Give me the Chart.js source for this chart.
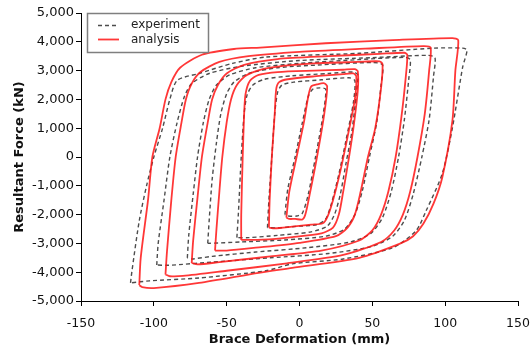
<!DOCTYPE html>
<html>
<head>
<meta charset="utf-8">
<script src="https://cdn.jsdelivr.net/npm/chart.js@4.4.1/dist/chart.umd.min.js"></script>
<style>
  html, body { margin: 0; padding: 0; background: #fff; }
</style>
</head>
<body>
<canvas id="hyst_chart" width="531" height="347"></canvas>
<script>
// axis ticks
const xTicks = [-150, -100, -50, 0, 50, 100, 150];
const yTicks = [-5000, -4000, -3000, -2000, -1000, 0, 1000, 2000, 3000, 4000, 5000];

// analysis loops, [deformation mm, force kN]
const ana1 = [[-9,-2100],[-7,-1200],[-2,0],[3,1200],[6,2100],[8,2450],[12,2520],[17,2560],[19,2450],
  [17,1500],[12,0],[7,-1300],[4,-2000],[2,-2170],[-3,-2150],[-7,-2150],[-9,-2100]];
const ana2 = [[-21,-2450],[-20.5,-1500],[-19,0],[-17,1500],[-16,2350],[-14,2600],[-8,2700],[10,2800],[30,2880],[37,2900],[39,2800],
  [38,2000],[33,700],[28,-500],[23,-1500],[19,-2100],[16,-2300],[8,-2350],[-5,-2420],[-17,-2480],[-21,-2450]];
const ana3 = [[-40,-2880],[-40,-2000],[-39,0],[-38,1500],[-37,2200],[-34,2650],[-28,2850],[-15,2950],[10,3000],[30,3030],[38,3050],[40,2980],
  [40,2300],[37,1000],[34,0],[30,-1200],[27,-2000],[23,-2450],[15,-2650],[-5,-2780],[-25,-2870],[-40,-2880]];
const ana4 = [[-58,-3250],[-57,-2500],[-55,-1200],[-53,0],[-50,1200],[-47,2000],[-43,2500],[-36,2850],[-20,3100],[10,3250],[40,3300],[55,3320],[57,3220],
  [56,2400],[52,1000],[47,0],[42,-1200],[38,-2000],[33,-2450],[25,-2750],[0,-2980],[-30,-3150],[-50,-3250],[-58,-3250]];
const ana5 = [[-74,-3680],[-73,-2900],[-70,-1400],[-67,0],[-63,1200],[-60,2000],[-56,2500],[-50,2900],[-38,3200],[-15,3400],[20,3500],[55,3580],[72,3620],[74,3550],
  [73,2800],[70,1400],[66,0],[61,-1200],[56,-2000],[50,-2550],[41,-2900],[15,-3250],[-20,-3450],[-55,-3650],[-70,-3730],[-74,-3680]];
const ana6 = [[-92,-4080],[-91,-3300],[-88,-1500],[-85,0],[-81,1200],[-78,2000],[-74,2550],[-68,2950],[-55,3300],[-35,3500],[0,3650],[45,3760],[85,3850],[90,3800],
  [89,3000],[86,1500],[81,0],[76,-1200],[71,-2000],[65,-2550],[56,-2950],[30,-3400],[-10,-3700],[-50,-3950],[-80,-4130],[-89,-4140],[-92,-4080]];
const ana7 = [[-110,-4450],[-109,-3500],[-104,-1500],[-101,0],[-96,1000],[-92,2000],[-88,2600],[-82,3100],[-67,3550],[-45,3750],[-27,3800],[18,3950],[64,4060],[105,4130],[109,4050],
  [107,3000],[105,1270],[98,-710],[92,-1620],[85,-2320],[78,-2750],[69,-3010],[41,-3500],[-5,-3850],[-28,-4020],[-69,-4370],[-100,-4550],[-108,-4520],[-110,-4450]];

// experiment loops, [deformation mm, force kN]
const exp1 = [[-10,-2000],[-8,-1100],[-3,0],[2,1200],[6,2100],[9,2350],[14,2400],[18,2350],
  [16,1400],[11,0],[6,-1300],[2,-1950],[-2,-2050],[-8,-2050],[-10,-2000]];
const exp2 = [[-22,-2450],[-21,-1500],[-19,0],[-17,1500],[-15,2250],[-12,2500],[-4,2600],[15,2680],[34,2750],[38,2650],
  [37,1900],[32,600],[27,-600],[22,-1600],[18,-2150],[12,-2350],[0,-2400],[-15,-2460],[-22,-2450]];
const exp3 = [[-43,-2800],[-42,-2000],[-40,0],[-38,1500],[-36,2150],[-32,2500],[-24,2700],[-5,2820],[20,2900],[37,2950],[40,2850],
  [39,2200],[36,900],[32,-200],[28,-1300],[24,-2000],[19,-2400],[8,-2600],[-15,-2720],[-35,-2800],[-43,-2800]];
const exp4 = [[-63,-3000],[-62,-2200],[-60,-800],[-57,500],[-54,1500],[-50,2200],[-45,2600],[-35,2900],[-15,3100],[15,3200],[50,3280],[57,3200],
  [56,2500],[53,1200],[48,0],[43,-1200],[38,-2000],[31,-2500],[18,-2750],[-10,-2880],[-40,-2950],[-63,-3000]];
const exp5 = [[-77,-3500],[-76,-2700],[-73,-1300],[-70,0],[-66,1200],[-62,2000],[-57,2500],[-48,2850],[-30,3100],[0,3250],[40,3380],[72,3460],[76,3380],
  [75,2700],[72,1300],[68,0],[63,-1200],[57,-2100],[49,-2650],[35,-2950],[5,-3150],[-30,-3300],[-60,-3450],[-74,-3540],[-77,-3500]];
const exp6 = [[-98,-3750],[-97,-3000],[-93,-1500],[-89,0],[-84,1200],[-79,2100],[-74,2550],[-62,2900],[-40,3150],[0,3350],[50,3450],[88,3530],[93,3450],
  [92,2800],[89,1300],[84,0],[78,-1300],[72,-2200],[64,-2750],[50,-3100],[20,-3350],[-20,-3500],[-60,-3650],[-90,-3760],[-98,-3750]];
const exp7 = [[-116,-4370],[-115,-3950],[-110,-2210],[-105,-1000],[-100,0],[-94,1000],[-89,2000],[-84,2660],[-69,2900],[-46,3250],[-23,3470],[41,3600],[92,3780],[112,3780],[115,3710],
  [112,3120],[105,1020],[98,-580],[87,-1860],[80,-2560],[64,-3150],[30,-3540],[-5,-3710],[-23,-3950],[-69,-4200],[-103,-4300],[-116,-4370]];

const anaLoops = [ana1, ana2, ana3, ana4, ana5, ana6, ana7];
const expLoops = [exp1, exp2, exp3, exp4, exp5, exp6, exp7];

const redLine = 'rgba(255,20,20,0.85)';
const grayDash = '#4d4d4d';

const datasets = [];
anaLoops.forEach(loop => {
  datasets.push({
    label: 'analysis',
    data: loop.map(p => ({ x: p[0], y: p[1] })),
    showLine: true,
    borderColor: redLine,
    borderWidth: 1.8,
    pointRadius: 0,
    tension: 0.25
  });
});
expLoops.forEach(loop => {
  datasets.push({
    label: 'experiment',
    data: loop.map(p => ({ x: p[0], y: p[1] })),
    showLine: true,
    borderColor: grayDash,
    borderWidth: 1.4,
    borderDash: [4, 3],
    pointRadius: 0,
    tension: 0.25
  });
});

// legend box drawn inside the plot, top left
const legendBox = {
  id: 'legendBox',
  afterDraw(chart) {
    const c = chart.ctx;
    c.save();
    c.fillStyle = '#fff';
    c.fillRect(87, 13, 122, 40);
    c.strokeStyle = '#7f7f7f';
    c.lineWidth = 1.5;
    c.strokeRect(87.5, 13.5, 121, 39);

    c.lineWidth = 1.4;
    c.strokeStyle = grayDash;
    c.setLineDash([4, 3]);
    c.beginPath(); c.moveTo(98, 25.5); c.lineTo(119, 25.5); c.stroke();
    c.setLineDash([]);
    c.lineWidth = 1.8;
    c.strokeStyle = redLine;
    c.beginPath(); c.moveTo(98, 39.5); c.lineTo(119, 39.5); c.stroke();

    c.fillStyle = '#222';
    c.font = '12px "DejaVu Sans"';
    c.textBaseline = 'middle';
    c.fillText('experiment', 131, 25);
    c.fillText('analysis', 131, 40);
    c.restore();
  }
};

const ctx = document.getElementById('hyst_chart');

new Chart(ctx, {
  type: 'scatter',
  data: { datasets: datasets },
  options: {
    responsive: false,
    animation: false,
    devicePixelRatio: 1,
    layout: { padding: { top: 13, right: 13, left: 0, bottom: 0 } },
    plugins: {
      legend: { display: false },
      tooltip: { enabled: false }
    },
    scales: {
      x: {
        type: 'linear',
        min: -150,
        max: 150,
        afterBuildTicks: s => { s.ticks = xTicks.map(v => ({ value: v })); },
        afterFit: s => { s.height = 46; s.paddingLeft = 0; s.paddingRight = 0; },
        grid: { drawOnChartArea: false, drawTicks: true, tickLength: 5, color: '#000', lineWidth: 1 },
        border: { display: true, color: '#000', width: 1 },
        ticks: { color: '#111', padding: 10, font: { family: 'DejaVu Sans', size: 12.5 } },
        title: {
          display: true,
          text: 'Brace Deformation (mm)',
          color: '#111',
          font: { family: 'DejaVu Sans', size: 13, weight: 'bold' },
          padding: { top: 0, bottom: 0 }
        }
      },
      y: {
        type: 'linear',
        min: -5000,
        max: 5000,
        afterBuildTicks: s => { s.ticks = yTicks.map(v => ({ value: v })); },
        afterFit: s => { s.width = 81; s.paddingTop = 0; s.paddingBottom = 0; },
        grid: { drawOnChartArea: false, drawTicks: true, tickLength: 5, color: '#000', lineWidth: 1 },
        border: { display: true, color: '#000', width: 1 },
        ticks: {
          color: '#111',
          padding: 2,
          font: { family: 'DejaVu Sans', size: 13 },
          callback: v => v.toLocaleString('en-US')
        },
        title: {
          display: true,
          text: 'Resultant Force (kN)',
          color: '#111',
          font: { family: 'DejaVu Sans', size: 13, weight: 'bold' },
          padding: { top: 12, bottom: 0 }
        }
      }
    }
  },
  plugins: [legendBox]
});
</script>
</body>
</html>
